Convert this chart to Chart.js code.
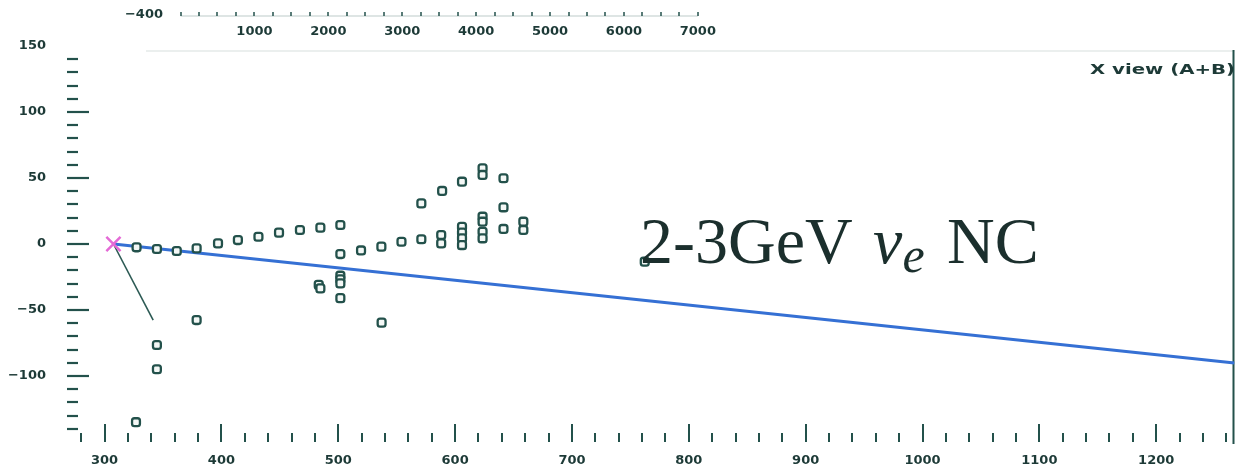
<!DOCTYPE html>
<html>
<head>
<meta charset="utf-8">
<script src="https://cdn.jsdelivr.net/npm/chart.js@4.4.0/dist/chart.umd.min.js"></script>
<style>
  html, body { margin: 0; padding: 0; background: #fff; }
</style>
</head>
<body>
<canvas id="xView" width="1247" height="476"></canvas>
<script>
  //hits in the X view (z along the beam, transverse x), cm
  var hitZ = [327.4, 344.8, 361.8, 378.8, 397.1, 414.1, 431.7, 449.3, 467.2, 484.7,
              501.8, 501.8, 519.5, 536.9, 554.1, 571.1, 588.1, 588.1, 605.9, 605.9,
              605.9, 605.9, 623.5, 623.5, 623.5, 623.5, 623.5, 623.5, 641.4, 641.4,
              641.4, 658.4, 658.4, 571.1, 588.9, 605.9, 501.8, 501.8, 501.8, 501.8,
              483.3, 484.7, 378.8, 344.8, 344.8, 326.9, 537.1, 762.3];
  var hitX = [-2.5, -3.8, -5.3, -3.3, 0.5, 3.0, 5.5, 8.6, 10.6, 12.4,
              14.4, -7.6, -4.9, -2.0, 1.7, 3.6, 6.8, 0.5, 13.0, 8.6,
              4.3, -0.8, 20.7, 16.9, 9.3, 4.3, 57.3, 52.3, 49.8, 27.8,
              11.4, 16.9, 10.6, 30.8, 40.2, 47.2, -24.0, -26.8, -29.8, -41.0,
              -31.0, -33.6, -57.6, -76.5, -94.9, -135.0, -59.6, -13.4];

  //reconstructed vertex
  var vtxZ = [307.6];
  var vtxX = [0];

  //short track out of the vertex
  var trackZ = [307.6, 341.6];
  var trackX = [0, -57.6];

  //beam direction line
  var beamZ = [307.6, 1267];
  var beamX = [0, -90.2];

  //tick labels
  var zTicks = [300, 400, 500, 600, 700, 800, 900, 1000, 1100, 1200];
  var xTicks = [-100, -50, 0, 50, 100, 150];
  var topTicks = [1000, 2000, 3000, 4000, 5000, 6000, 7000];

  var ink = '#23514b';
  var labelInk = '#1d3a37';

  function pts(xs, ys) {
    return xs.map(function (v, i) { return { x: v, y: ys[i] }; });
  }

  function signed(v) {
    return v < 0 ? '\u2212' + Math.abs(v) : String(v);
  }

  //frame, inward ticks and the bits of text
  var decor = {
    id: 'decor',
    beforeDatasetsDraw: function (chart) {
      var ctx = chart.ctx;
      var a = chart.chartArea;
      var sx = chart.scales.x;
      var sy = chart.scales.y;
      ctx.save();
      ctx.strokeStyle = ink;
      ctx.lineWidth = 2.2;

      //left edge ticks, every 10
      for (var v = -140; v <= 140; v += 10) {
        var py = Math.round(sy.getPixelForValue(v));
        var len = (v % 50 === 0) ? 22 : 11;
        ctx.beginPath();
        ctx.moveTo(a.left + 1, py);
        ctx.lineTo(a.left + 1 + len, py);
        ctx.stroke();
      }

      //bottom edge ticks, every 20
      ctx.lineWidth = 2;
      for (var z = 280; z <= 1260; z += 20) {
        var px = Math.round(sx.getPixelForValue(z));
        var l = (z % 100 === 0) ? 18 : 9;
        ctx.beginPath();
        ctx.moveTo(px, a.bottom);
        ctx.lineTo(px, a.bottom - l);
        ctx.stroke();
      }

      //right border
      ctx.beginPath();
      ctx.moveTo(a.right - 1, a.top + 4);
      ctx.lineTo(a.right - 1, a.bottom + 2);
      ctx.stroke();

      //faint top border
      ctx.globalAlpha = 0.12;
      ctx.lineWidth = 1.5;
      ctx.beginPath();
      ctx.moveTo(a.left + 80, a.top + 5);
      ctx.lineTo(a.right, a.top + 5);
      ctx.stroke();
      ctx.restore();
    },
    afterDraw: function (chart) {
      var ctx = chart.ctx;
      var st = chart.scales.xt;
      ctx.save();

      //piece of the panel above
      ctx.strokeStyle = ink;
      ctx.fillStyle = labelInk;
      ctx.lineWidth = 1.5;
      ctx.globalAlpha = 0.2;
      ctx.beginPath();
      ctx.moveTo(st.getPixelForValue(0), 16);
      ctx.lineTo(st.getPixelForValue(7000), 16);
      ctx.stroke();
      ctx.globalAlpha = 1;
      for (var t = 0; t <= 7000; t += 250) {
        var tx = Math.round(st.getPixelForValue(t));
        ctx.beginPath();
        ctx.moveTo(tx, 12);
        ctx.lineTo(tx, 16);
        ctx.stroke();
      }
      ctx.font = 'bold 13px "DejaVu Sans"';
      ctx.textAlign = 'center';
      ctx.textBaseline = 'middle';
      topTicks.forEach(function (v) {
        ctx.fillText(String(v), st.getPixelForValue(v), 32);
      });
      ctx.textAlign = 'right';
      ctx.fillText('\u2212400', 163, 15);

      //view label
      ctx.font = 'bold 14px "DejaVu Sans"';
      ctx.textAlign = 'left';
      ctx.textBaseline = 'alphabetic';
      var lbl = 'X view (A+B)';
      var w = ctx.measureText(lbl).width;
      ctx.save();
      ctx.translate(1090, 74);
      ctx.scale(145 / w, 1);
      ctx.fillText(lbl, 0, 0);
      ctx.restore();

      //event title
      var x0 = 640, base = 263;
      ctx.fillStyle = '#1b2f2d';
      ctx.font = '66px "Liberation Serif"';
      ctx.fillText('2-3GeV ', x0, base);
      x0 += ctx.measureText('2-3GeV ').width + 4;
      ctx.font = 'italic 66px "Liberation Serif"';
      ctx.fillText('\u03bd', x0, base);
      x0 += ctx.measureText('\u03bd').width;
      ctx.font = 'italic 50px "Liberation Serif"';
      ctx.fillText('e', x0, base + 9);
      x0 += ctx.measureText('e').width;
      ctx.font = '66px "Liberation Serif"';
      ctx.fillText(' NC', x0 + 6, base);

      ctx.restore();
    }
  };

  var ctx = document.getElementById('xView');

  var myChart = new Chart(ctx, {
    type: 'scatter',
    data: {
      datasets: [
        {
          data: pts(vtxZ, vtxX),
          pointStyle: 'crossRot',
          pointRadius: 10,
          borderColor: '#e46ad6',
          borderWidth: 2.5,
          order: 0
        },
        {
          data: pts(hitZ, hitX),
          pointStyle: 'rectRounded',
          pointRadius: 4.6,
          borderColor: ink,
          backgroundColor: '#f4f8f6',
          borderWidth: 2.3,
          order: 1
        },
        {
          data: pts(trackZ, trackX),
          showLine: true,
          pointRadius: 0,
          borderColor: '#2c5a54',
          borderWidth: 1.6,
          order: 2
        },
        {
          data: pts(beamZ, beamX),
          showLine: true,
          pointRadius: 0,
          borderColor: '#3570d4',
          borderWidth: 3,
          order: 3
        }
      ]
    },
    options: {
      responsive: false,
      animation: false,
      layout: { padding: { top: 46, right: 4, left: 0, bottom: 0 } },
      plugins: {
        legend: { display: false },
        tooltip: { enabled: false }
      },
      scales: {
        x: {
          type: 'linear',
          position: 'bottom',
          min: 267,
          max: 1267,
          afterBuildTicks: function (s) {
            s.ticks = zTicks.map(function (v) { return { value: v }; });
          },
          afterFit: function (s) { s.height = 34; },
          grid: { display: false, drawTicks: false },
          border: { display: false },
          ticks: {
            padding: 11,
            autoSkip: false,
            maxRotation: 0,
            color: labelInk,
            font: { family: 'DejaVu Sans', size: 13, weight: 'bold' },
            callback: function (v) { return signed(v); }
          }
        },
        y: {
          type: 'linear',
          min: -150,
          max: 150,
          afterBuildTicks: function (s) {
            s.ticks = xTicks.map(function (v) { return { value: v }; });
          },
          afterFit: function (s) { s.width = 66; },
          grid: { display: false, drawTicks: false },
          border: { display: false },
          ticks: {
            padding: 20,
            color: labelInk,
            font: { family: 'DejaVu Sans', size: 13, weight: 'bold' },
            callback: function (v) { return signed(v); }
          }
        },
        xt: {
          type: 'linear',
          axis: 'x',
          display: false,
          min: -1550,
          max: 14262
        }
      }
    },
    plugins: [decor]
  });
</script>
</body>
</html>
